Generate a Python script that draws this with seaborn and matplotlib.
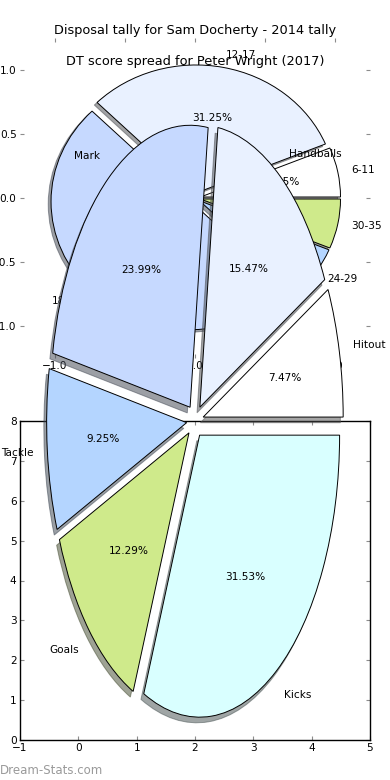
import matplotlib
matplotlib.use('Agg')
import matplotlib.pyplot as plt
import seaborn as sns

# ---------------- data ----------------
dt_labels = ['6-11', '12-17', '18-23', '24-29', '30-35']
dt_values = [6.25, 31.25, 50.0, 6.25, 6.25]

disp_labels = ['Hitout', 'Handballs', 'Mark', 'Tackle', 'Goals', 'Kicks']
disp_values = [7.47, 15.47, 23.99, 9.25, 12.29, 31.53]

title_top = 'Disposal tally for Sam Docherty - 2014 tally'
title_pie = 'DT score spread for Peter Wright (2017)'

pieA_ticks = [-1.0, -0.5, 0.0, 0.5, 1.0]
bottom_xticks = [-1, 0, 1, 2, 3, 4, 5]
bottom_yticks = [0, 1, 2, 3, 4, 5, 6, 7, 8]

palette_hex = ['#ffffff', '#e9f1ff', '#c6d9ff', '#b4d5ff', '#cfea8b', '#d9ffff']

# ---------------- style ----------------
sns.set_theme(style='white')
plt.rcParams['font.family'] = ['DejaVu Sans']
palette = sns.color_palette(palette_hex)

W, H = 390, 780
fig = plt.figure(figsize=(W / 100, H / 100), dpi=100)
fig.patch.set_facecolor('white')


def rect(l, t, r, b):
    return [l / W, 1 - b / H, (r - l) / W, (b - t) / H]


FS = 7.6
TICKC = '#8c8c8c'
wprops = dict(edgecolor='black', linewidth=0.7)
shadow = {'ox': -0.0144, 'oy': -0.0144}

# ---- axes A : DT score pie (small, top) ----
axA = fig.add_axes(rect(20, 38, 370, 358))
axA.pie(dt_values, labels=dt_labels, colors=palette[:len(dt_values)],
        explode=[0.04] * len(dt_values), autopct='%1.2f%%', shadow=shadow,
        wedgeprops=wprops, textprops=dict(fontsize=FS, color='black'))
axA.set_aspect('auto')
axA.set_xlim(-1.25, 1.25)
axA.set_ylim(-1.25, 1.25)
axA.set_xticks(pieA_ticks)
axA.set_yticks(pieA_ticks)
axA.tick_params(direction='in', bottom=True, left=True, top=True, right=True,
                length=3, width=0.8, color=TICKC, labelsize=FS,
                labelcolor='black', pad=2.5)
axA.set_title(title_top, fontsize=9.3, color='black', pad=3)

# ---- axes B : empty framed axes (bottom) ----
axB = fig.add_axes(rect(20, 421, 370, 740))
axB.set_facecolor('white')
axB.set_xlim(-1, 5)
axB.set_ylim(0, 8)
axB.set_xticks(bottom_xticks)
axB.set_yticks(bottom_yticks)
for s in axB.spines.values():
    s.set_visible(True)
    s.set_color('black')
    s.set_linewidth(1.0)
axB.tick_params(direction='in', bottom=True, left=True, top=True, right=True,
                length=3, width=0.8, color=TICKC, labelsize=FS,
                labelcolor='black', pad=2.5)

# ---- axes C : Disposal pie (large, overlapping) ----
axC = fig.add_axes(rect(20, 68.5, 370, 773.5))
axC.pie(disp_values, labels=disp_labels, colors=palette[:len(disp_values)],
        explode=[0.06] * len(disp_values), autopct='%1.2f%%', shadow=shadow,
        wedgeprops=wprops, textprops=dict(fontsize=FS, color='black'))
axC.set_aspect('auto')
axC.set_xlim(-1.25, 1.25)
axC.set_ylim(-1.25, 1.25)
axC.set_title(title_pie, fontsize=9.3, color='black', pad=2.5)

fig.text(0.0, 1 - 770 / H, 'Dream-Stats.com', fontsize=8.5, color='#9a9a9a',
         ha='left', va='center')

fig.savefig('out.png', dpi=100, facecolor='white')
